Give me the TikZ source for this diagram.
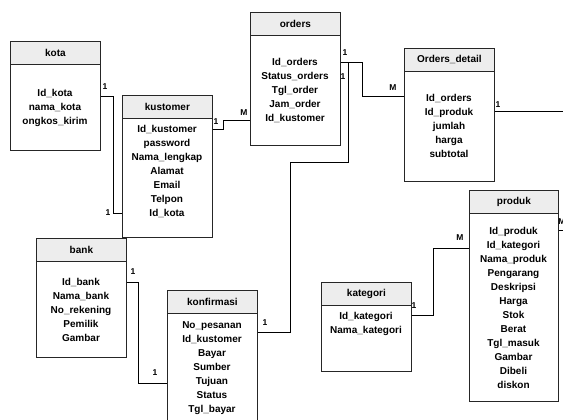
\documentclass[tikz,border=0pt]{standalone}
\usepackage{fontspec}
\setmainfont{Liberation Sans}
\usetikzlibrary{calc}

\tikzset{
  entbox/.style={draw=black!85, line width=0.8pt, rectangle, inner sep=0pt},
  enthead/.style={draw=black!85, line width=0.8pt, fill=black!7, rectangle, inner sep=0pt,
    minimum height=23pt, font=\fontsize{10}{12}\selectfont\bfseries},
  entfields/.style={align=center, inner sep=0pt, font=\fontsize{10}{14}\selectfont\bfseries},
  relline/.style={draw=black, line width=1pt},
  card/.style={inner sep=0pt, font=\fontsize{8.5}{10}\selectfont\bfseries}
}

% #1 name, #2 left, #3 top, #4 width, #5 height, #6 title, #7 centre y of the field list, #8 fields
\newcommand\erentity[8]{%
  \node[entbox, minimum width=#4pt, minimum height=#5pt, anchor=north west] (#1) at (#2,#3) {};
  \node[enthead, minimum width=#4pt, anchor=north west] (#1-head) at (#2,#3) {#6};
  \node[entfields] (#1-fields) at ({#2+#4/2},#7) {#8};
}

\begin{document}
\begin{tikzpicture}[x=1pt,y=-1pt]
  \fill[white] (0,0) rectangle (563,420);
  \useasboundingbox (0,0) rectangle (563,420);

  % tables
  \erentity{kota}{10}{41}{90}{109}{kota}{108}{Id\_kota\\nama\_kota\\ongkos\_kirim}
  \erentity{kustomer}{122}{95}{90}{142}{kustomer}{171.5}{Id\_kustomer\\password\\Nama\_lengkap\\Alamat\\Email\\Telpon\\Id\_kota}
  \erentity{orders}{250}{12}{90}{133}{orders}{90.5}{Id\_orders\\Status\_orders\\Tgl\_order\\Jam\_order\\Id\_kustomer}
  \erentity{odetail}{404}{48}{90}{133}{Orders\_detail}{125.5}{Id\_orders\\Id\_produk\\jumlah\\harga\\subtotal}
  \erentity{bank}{36}{238}{90}{119}{bank}{309.5}{Id\_bank\\Nama\_bank\\No\_rekening\\Pemilik\\Gambar}
  \erentity{konf}{167}{290}{90}{150}{konfirmasi}{368}{No\_pesanan\\Id\_kustomer\\Bayar\\Sumber\\Tujuan\\Status\\Tgl\_bayar}
  \erentity{kategori}{321}{282}{90}{89}{kategori}{324}{Id\_kategori\\Nama\_kategori}
  \erentity{produk}{469}{190}{89}{211}{produk}{307.5}{Id\_produk\\Id\_kategori\\Nama\_produk\\Pengarang\\Deskripsi\\Harga\\Stok\\Berat\\Tgl\_masuk\\Gambar\\Dibeli\\diskon}

  % free ends of the links leaving on the right
  \coordinate (odetailOut) at (566,112);
  \coordinate (produkOut) at (566,230);

  % kota -- kustomer
  \draw[relline] ($(kota.north east)+(0,56)$) -- ++(12.5,0) |- ($(kustomer.north west)+(0,118)$);
  \node[card] at (105,87) {1};
  \node[card] at (108,213) {1};

  % kustomer -- orders
  \draw[relline] ($(kustomer.north east)+(0,35)$) -- ++(11,0) |- ($(orders.north west)+(0,109)$);
  \node[card] at (216,122) {1};
  \node[card] at (244,113) {M};

  % orders -- Orders_detail
  \draw[relline] ($(orders.north east)+(0,51)$) -- ++(22,0) |- ($(odetail.north west)+(0,49)$);
  \node[card] at (345,53) {1};
  \node[card] at (393,88) {M};

  % orders -- konfirmasi
  \draw[relline] ($(orders.north east)+(0,51)$) -- ++(8,0) -- ++(0,99)
    -| ($(konf.north east)+(33,42)$) -- ($(konf.north east)+(0,42)$);
  \node[card] at (343,77) {1};
  \node[card] at (265,323) {1};

  % Orders_detail -- produk
  \draw[relline] ($(odetail.north east)+(0,64)$) -- (odetailOut);
  \node[card] at (498,105) {1};
  \draw[relline] ($(produk.north east)+(0,40)$) -- (produkOut);
  \node[card] at (562,222) {M};

  % bank -- konfirmasi
  \draw[relline] ($(bank.north east)+(0,44)$) -- ++(12,0) |- ($(konf.north west)+(0,93)$);
  \node[card] at (133,272) {1};
  \node[card] at (155,373) {1};

  % kategori -- produk
  \draw[relline] ($(kategori.north east)+(0,33)$) -- ++(22,0) |- ($(produk.north west)+(0,58)$);
  \node[card] at (414,306) {1};
  \node[card] at (460,238) {M};
\end{tikzpicture}
\end{document}
